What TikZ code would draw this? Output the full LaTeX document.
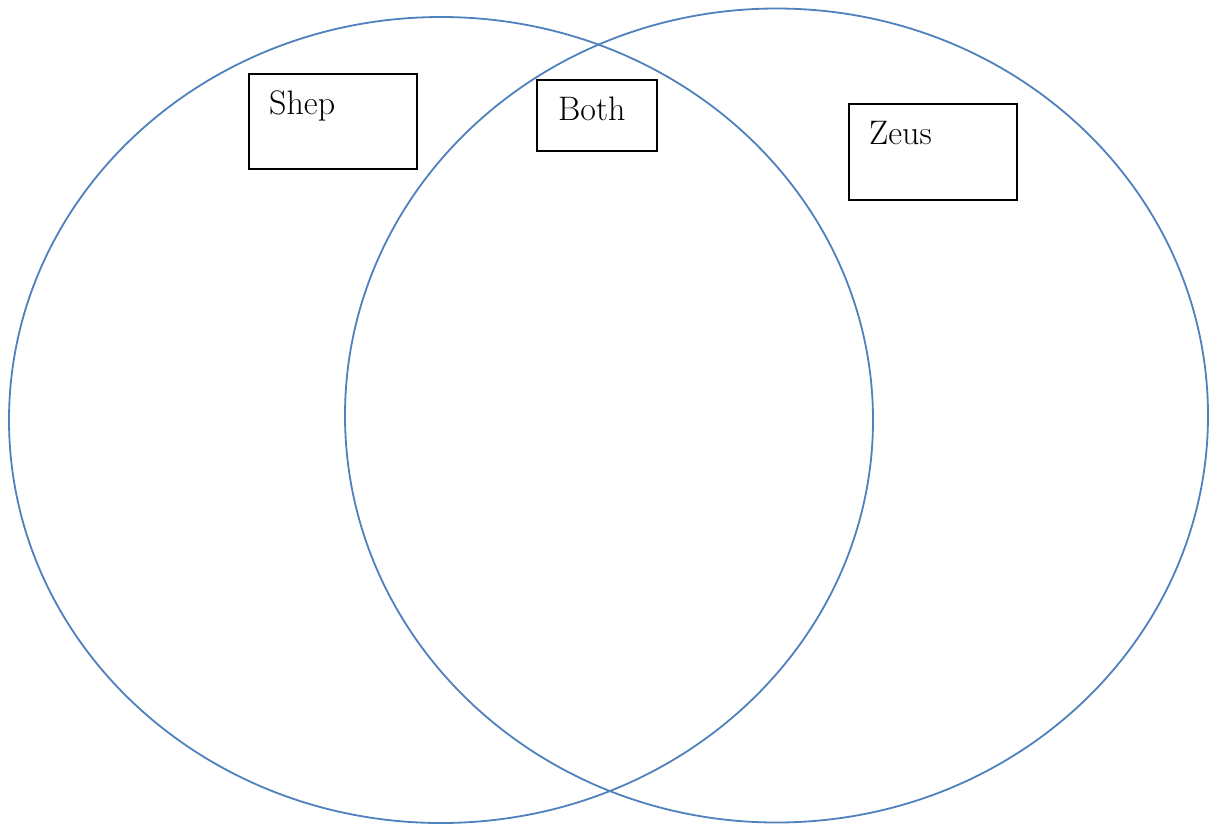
\documentclass[tikz,border=0pt]{standalone}
\usetikzlibrary{shapes.geometric}
\definecolor{vennblue}{HTML}{4F81BD}
\begin{document}
\begin{tikzpicture}[x=1pt,y=-1pt,
  venn/.style={draw=vennblue,line width=1.8pt,ellipse,inner sep=0pt},
  lbox/.style={draw=black,line width=2.2pt,rectangle,inner sep=0pt},
  ltext/.style={anchor=base west,inner sep=0pt,font=\fontsize{34}{40}\selectfont}]
\useasboundingbox (0,0) rectangle (1212,825);
\fill[white] (0,0) rectangle (1212,825);
\node[venn,minimum width=864pt,minimum height=806pt] (left) at (441,420) {};
\node[venn,minimum width=863pt,minimum height=814pt] (right) at (776.5,415.5) {};
\node[lbox,minimum width=168pt,minimum height=95pt] (shepbox) at (333,121.5) {};
\node[lbox,minimum width=120pt,minimum height=71pt] (bothbox) at (597,115.5) {};
\node[lbox,minimum width=168pt,minimum height=96pt] (zeusbox) at (933,152) {};
\node[ltext] (shep) at (269,114) {Shep};
\node[ltext] (both) at (558,120) {Both};
\node[ltext] (zeus) at (869,144) {Zeus};
\end{tikzpicture}
\end{document}
